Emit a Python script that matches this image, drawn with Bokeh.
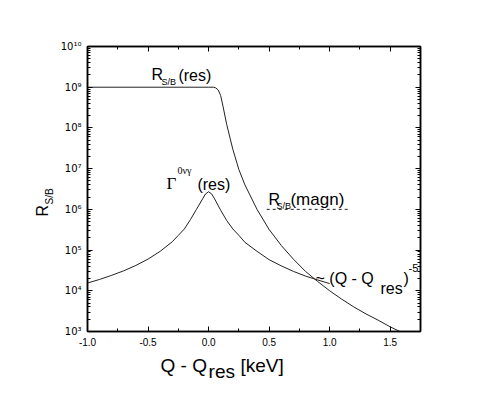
from bokeh.plotting import figure
from bokeh.models import (Range1d, Label, LinearAxis, LogAxis, FixedTicker,
                          CustomJSTickFormatter, NumeralTickFormatter)
from bokeh.embed import file_html
from bokeh.resources import INLINE

# ---- data ----
res_x = [-1.0, 0.0, 0.04, 0.06, 0.08, 0.10, 0.12, 0.15, 0.20, 0.25, 0.30, 0.40,
         0.50, 0.60, 0.70, 0.80, 0.90, 1.00, 1.10, 1.20, 1.30, 1.40, 1.50, 1.58]
res_y = [1e9, 1e9, 1e9, 9.6e8, 8.5e8, 6.2e8, 3.3e8, 1.2e8, 3.0e7, 9.5e6, 4.0e6, 1.0e6,
         3.2e5, 1.3e5, 6.0e4, 3.0e4, 1.7e4, 1.0e4, 6.2e3, 4.0e3, 2.7e3, 1.9e3, 1.3e3, 1.0e3]

gam_x = [-1.0, -0.9, -0.8, -0.7, -0.6, -0.5, -0.4, -0.3, -0.25, -0.2, -0.15, -0.1,
         -0.05, -0.025, 0.0, 0.025, 0.05, 0.1, 0.15, 0.2, 0.25, 0.3, 0.4, 0.5,
         0.6, 0.7, 0.8, 0.9, 1.0]
gam_y = [1.55e4, 1.9e4, 2.4e4, 3.1e4, 4.2e4, 6.0e4, 9.3e4, 1.6e5, 2.3e5, 3.3e5, 5.6e5, 1.0e6,
         1.8e6, 2.4e6, 2.7e6, 2.4e6, 1.8e6, 9.5e5, 5.3e5, 3.3e5, 2.3e5, 1.55e5, 9.3e4, 5.8e4,
         4.1e4, 3.0e4, 2.3e4, 1.85e4, 1.5e4]

magn_x = [0.48, 1.17]
magn_y = [1e6, 1e6]

x_ticks = [-1.0, -0.5, 0.0, 0.5, 1.0, 1.5]
y_decades = [3, 4, 5, 6, 7, 8, 9, 10]

# ---- figure ----
p = figure(width=472, height=383, x_range=Range1d(-1.0, 1.75),
           y_range=Range1d(1e3, 1e10), y_axis_type="log",
           output_backend="svg", toolbar_location=None,
           min_border_left=87, min_border_right=52,
           min_border_top=46, min_border_bottom=52)
p.background_fill_color = "white"
p.border_fill_color = "white"
p.outline_line_color = "black"
p.outline_line_width = 1.5
p.xgrid.visible = False
p.ygrid.visible = False

xt = FixedTicker(ticks=x_ticks,
                 minor_ticks=[-1.0 + 0.25 * i for i in range(12)])
ymaj = [10.0 ** d for d in y_decades]
ymin = [m * 10.0 ** d for d in y_decades[:-1] for m in range(1, 10)]
yt = FixedTicker(ticks=ymaj, minor_ticks=ymin)

sup_code = """
const s = {"0":"\u2070","1":"\u00b9","2":"\u00b2","3":"\u00b3","4":"\u2074",
           "5":"\u2075","6":"\u2076","7":"\u2077","8":"\u2078","9":"\u2079","-":"\u207b"};
const e = Math.round(Math.log10(tick));
return "10" + String(e).split("").map(c => s[c]).join("");
"""

def style_axis(ax, show_labels):
    ax.axis_line_color = "black"
    ax.axis_line_width = 1.5
    ax.major_tick_in = 5
    ax.major_tick_out = 0
    ax.minor_tick_in = 3
    ax.minor_tick_out = 0
    ax.major_tick_line_color = "black"
    ax.minor_tick_line_color = "black"
    ax.major_label_text_font = "DejaVu Sans"
    ax.major_label_text_font_size = "10px"
    ax.major_label_text_color = "black"
    ax.major_label_standoff = 6
    if not show_labels:
        ax.major_label_text_alpha = 0
        ax.major_label_text_font_size = "1px"

xa = p.xaxis[0]
xa.ticker = xt
xa.formatter = NumeralTickFormatter(format="0.0")
style_axis(xa, True)
xa.major_label_text_font = "Liberation Sans"

ya = p.yaxis[0]
ya.ticker = yt
ya.formatter = CustomJSTickFormatter(code=sup_code)
style_axis(ya, True)

top = LinearAxis(ticker=xt)
style_axis(top, False)
p.add_layout(top, "above")
right = LogAxis(ticker=yt)
style_axis(right, False)
p.add_layout(right, "right")

# ---- curves ----
lc = "#222222"
p.line(res_x, res_y, line_color=lc, line_width=1)
p.line(gam_x, gam_y, line_color=lc, line_width=1)
p.line(magn_x, magn_y, line_color=lc, line_width=1, line_dash="3 3")

# ---- labels ----
SANS = "Liberation Sans"
SERIF = "Liberation Serif"

def mk(x, y, t, size, font=SANS, angle=0):
    return Label(x=x, y=y, text=t, text_font=font,
                 text_font_size=f"{size}px", text_color="black",
                 text_baseline="alphabetic", text_align="left",
                 angle=angle)

def lab(*a, **k):
    p.add_layout(mk(*a, **k))

# R_S/B (res)
lab(-0.471, 2.0e9, "R", 16)
lab(-0.389, 1.35e9, "S/B", 9)
lab(-0.249, 1.89e9, "(res)", 16)

# Gamma^{0vγ} (res)
lab(-0.348, 4.2e6, "\u0393", 17, SERIF)
lab(-0.257, 8.8e6, "0\u03bd\u03b3", 10, SERIF)
lab(-0.092, 4.0e6, "(res)", 16)

# R_S/B (magn)
lab(0.495, 1.7e6, "R", 16)
lab(0.561, 1.21e6, "S/B", 9)
lab(0.676, 1.7e6, "(magn)", 17)

# ~ (Q - Q_res)^-5
lab(0.883, 2.06e4, "~ (Q - Q", 16)
lab(1.420, 1.11e4, "res", 16)
lab(1.609, 2.06e4, ")", 16)
lab(1.651, 3.63e4, "-5", 11)

# axis titles: hosted in side panels (so they are not clipped to the frame),
# positioned in data coordinates
p.add_layout(mk(-0.397, 146.0, "Q - Q", 19), "below")
p.add_layout(mk(0.0, 104.0, "res", 19), "left")
p.add_layout(mk(0.2635, 146.0, "[keV]", 19), "above")
p.add_layout(mk(-1.3716, 6.67e5, "R", 16, angle=1.5708), "left")
p.add_layout(mk(-1.3138, 1.315e6, "S/B", 10, angle=1.5708), "left")

open("out.html", "w").write(file_html(p, INLINE))
